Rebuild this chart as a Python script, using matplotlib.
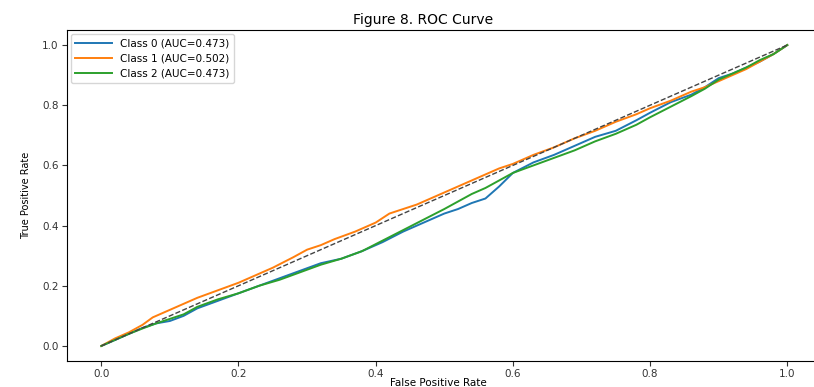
import matplotlib
matplotlib.use("Agg")
import matplotlib.pyplot as plt

# ROC points (fpr, tpr per class)
fpr_0 = [0, 0.02, 0.04, 0.06, 0.08, 0.10, 0.12, 0.14, 0.17, 0.20, 0.23, 0.26, 0.29, 0.32,
         0.35, 0.38, 0.41, 0.44, 0.47, 0.50, 0.52, 0.54, 0.56, 0.58, 0.60, 0.63, 0.66,
         0.69, 0.72, 0.75, 0.78, 0.80, 0.83, 0.86, 0.88, 0.90, 0.92, 0.94, 0.96, 0.98, 1.0]
tpr_0 = [0, 0.02, 0.04, 0.06, 0.075, 0.083, 0.10, 0.125, 0.15, 0.175, 0.20, 0.225, 0.25, 0.275,
         0.29, 0.315, 0.345, 0.38, 0.41, 0.44, 0.455, 0.475, 0.49, 0.53, 0.575, 0.61, 0.635,
         0.665, 0.695, 0.715, 0.75, 0.775, 0.81, 0.835, 0.86, 0.89, 0.905, 0.925, 0.945, 0.97, 1.0]

fpr_1 = [0, 0.02, 0.04, 0.06, 0.075, 0.09, 0.11, 0.14, 0.17, 0.20, 0.22, 0.25, 0.28, 0.30,
         0.32, 0.34, 0.37, 0.40, 0.42, 0.44, 0.46, 0.49, 0.52, 0.55, 0.58, 0.60, 0.63, 0.66,
         0.69, 0.72, 0.75, 0.78, 0.80, 0.83, 0.86, 0.88, 0.90, 0.92, 0.94, 0.96, 0.98, 1.0]
tpr_1 = [0, 0.025, 0.045, 0.07, 0.095, 0.11, 0.13, 0.16, 0.185, 0.21, 0.23, 0.26, 0.295, 0.32,
         0.335, 0.355, 0.38, 0.41, 0.44, 0.455, 0.47, 0.5, 0.53, 0.56, 0.59, 0.605, 0.635, 0.66,
         0.69, 0.715, 0.745, 0.77, 0.79, 0.815, 0.845, 0.86, 0.88, 0.90, 0.92, 0.945, 0.97, 1.0]

fpr_2 = [0, 0.02, 0.04, 0.06, 0.08, 0.10, 0.12, 0.14, 0.17, 0.20, 0.23, 0.26, 0.29, 0.32,
         0.35, 0.38, 0.41, 0.44, 0.47, 0.50, 0.52, 0.54, 0.56, 0.58, 0.60, 0.63, 0.66,
         0.69, 0.72, 0.75, 0.78, 0.80, 0.83, 0.86, 0.88, 0.90, 0.92, 0.94, 0.96, 0.98, 1.0]
tpr_2 = [0, 0.02, 0.04, 0.058, 0.075, 0.09, 0.105, 0.13, 0.155, 0.175, 0.20, 0.22, 0.245, 0.27,
         0.29, 0.315, 0.35, 0.385, 0.42, 0.455, 0.48, 0.505, 0.525, 0.55, 0.575, 0.60, 0.625,
         0.65, 0.68, 0.705, 0.735, 0.76, 0.795, 0.83, 0.855, 0.885, 0.905, 0.925, 0.95, 0.97, 1.0]

labels = ["Class 0 (AUC=0.473)", "Class 1 (AUC=0.502)", "Class 2 (AUC=0.473)"]
colors = ["#1f77b4", "#ff7f0e", "#2ca02c"]

fig = plt.figure(figsize=(8.14, 3.87), dpi=100)
ax = fig.add_axes([67 / 814, 26 / 387, 758 / 814, 331 / 387])

for fpr, tpr, lab, col in zip([fpr_0, fpr_1, fpr_2], [tpr_0, tpr_1, tpr_2], labels, colors):
    ax.plot(fpr, tpr, color=col, lw=1.4, label=lab)
ax.plot([0, 1], [0, 1], color="#444444", ls="--", lw=1.0)

ax.set_xlim(-0.05, 1.055)
ax.set_ylim(-0.05, 1.05)
ax.tick_params(labelsize=7.5, colors="#333333", pad=2.5)
ax.set_xlabel("False Positive Rate", fontsize=7.5, labelpad=-1, x=0.49)
ax.set_ylabel("True Positive Rate", fontsize=7, labelpad=8)
ax.set_title("Figure 8. ROC Curve", fontsize=10, x=0.47, pad=4)
ax.legend(loc="upper left", fontsize=7.5, handlelength=3.5, borderaxespad=0.4)

fig.savefig("out.png", dpi=100)
